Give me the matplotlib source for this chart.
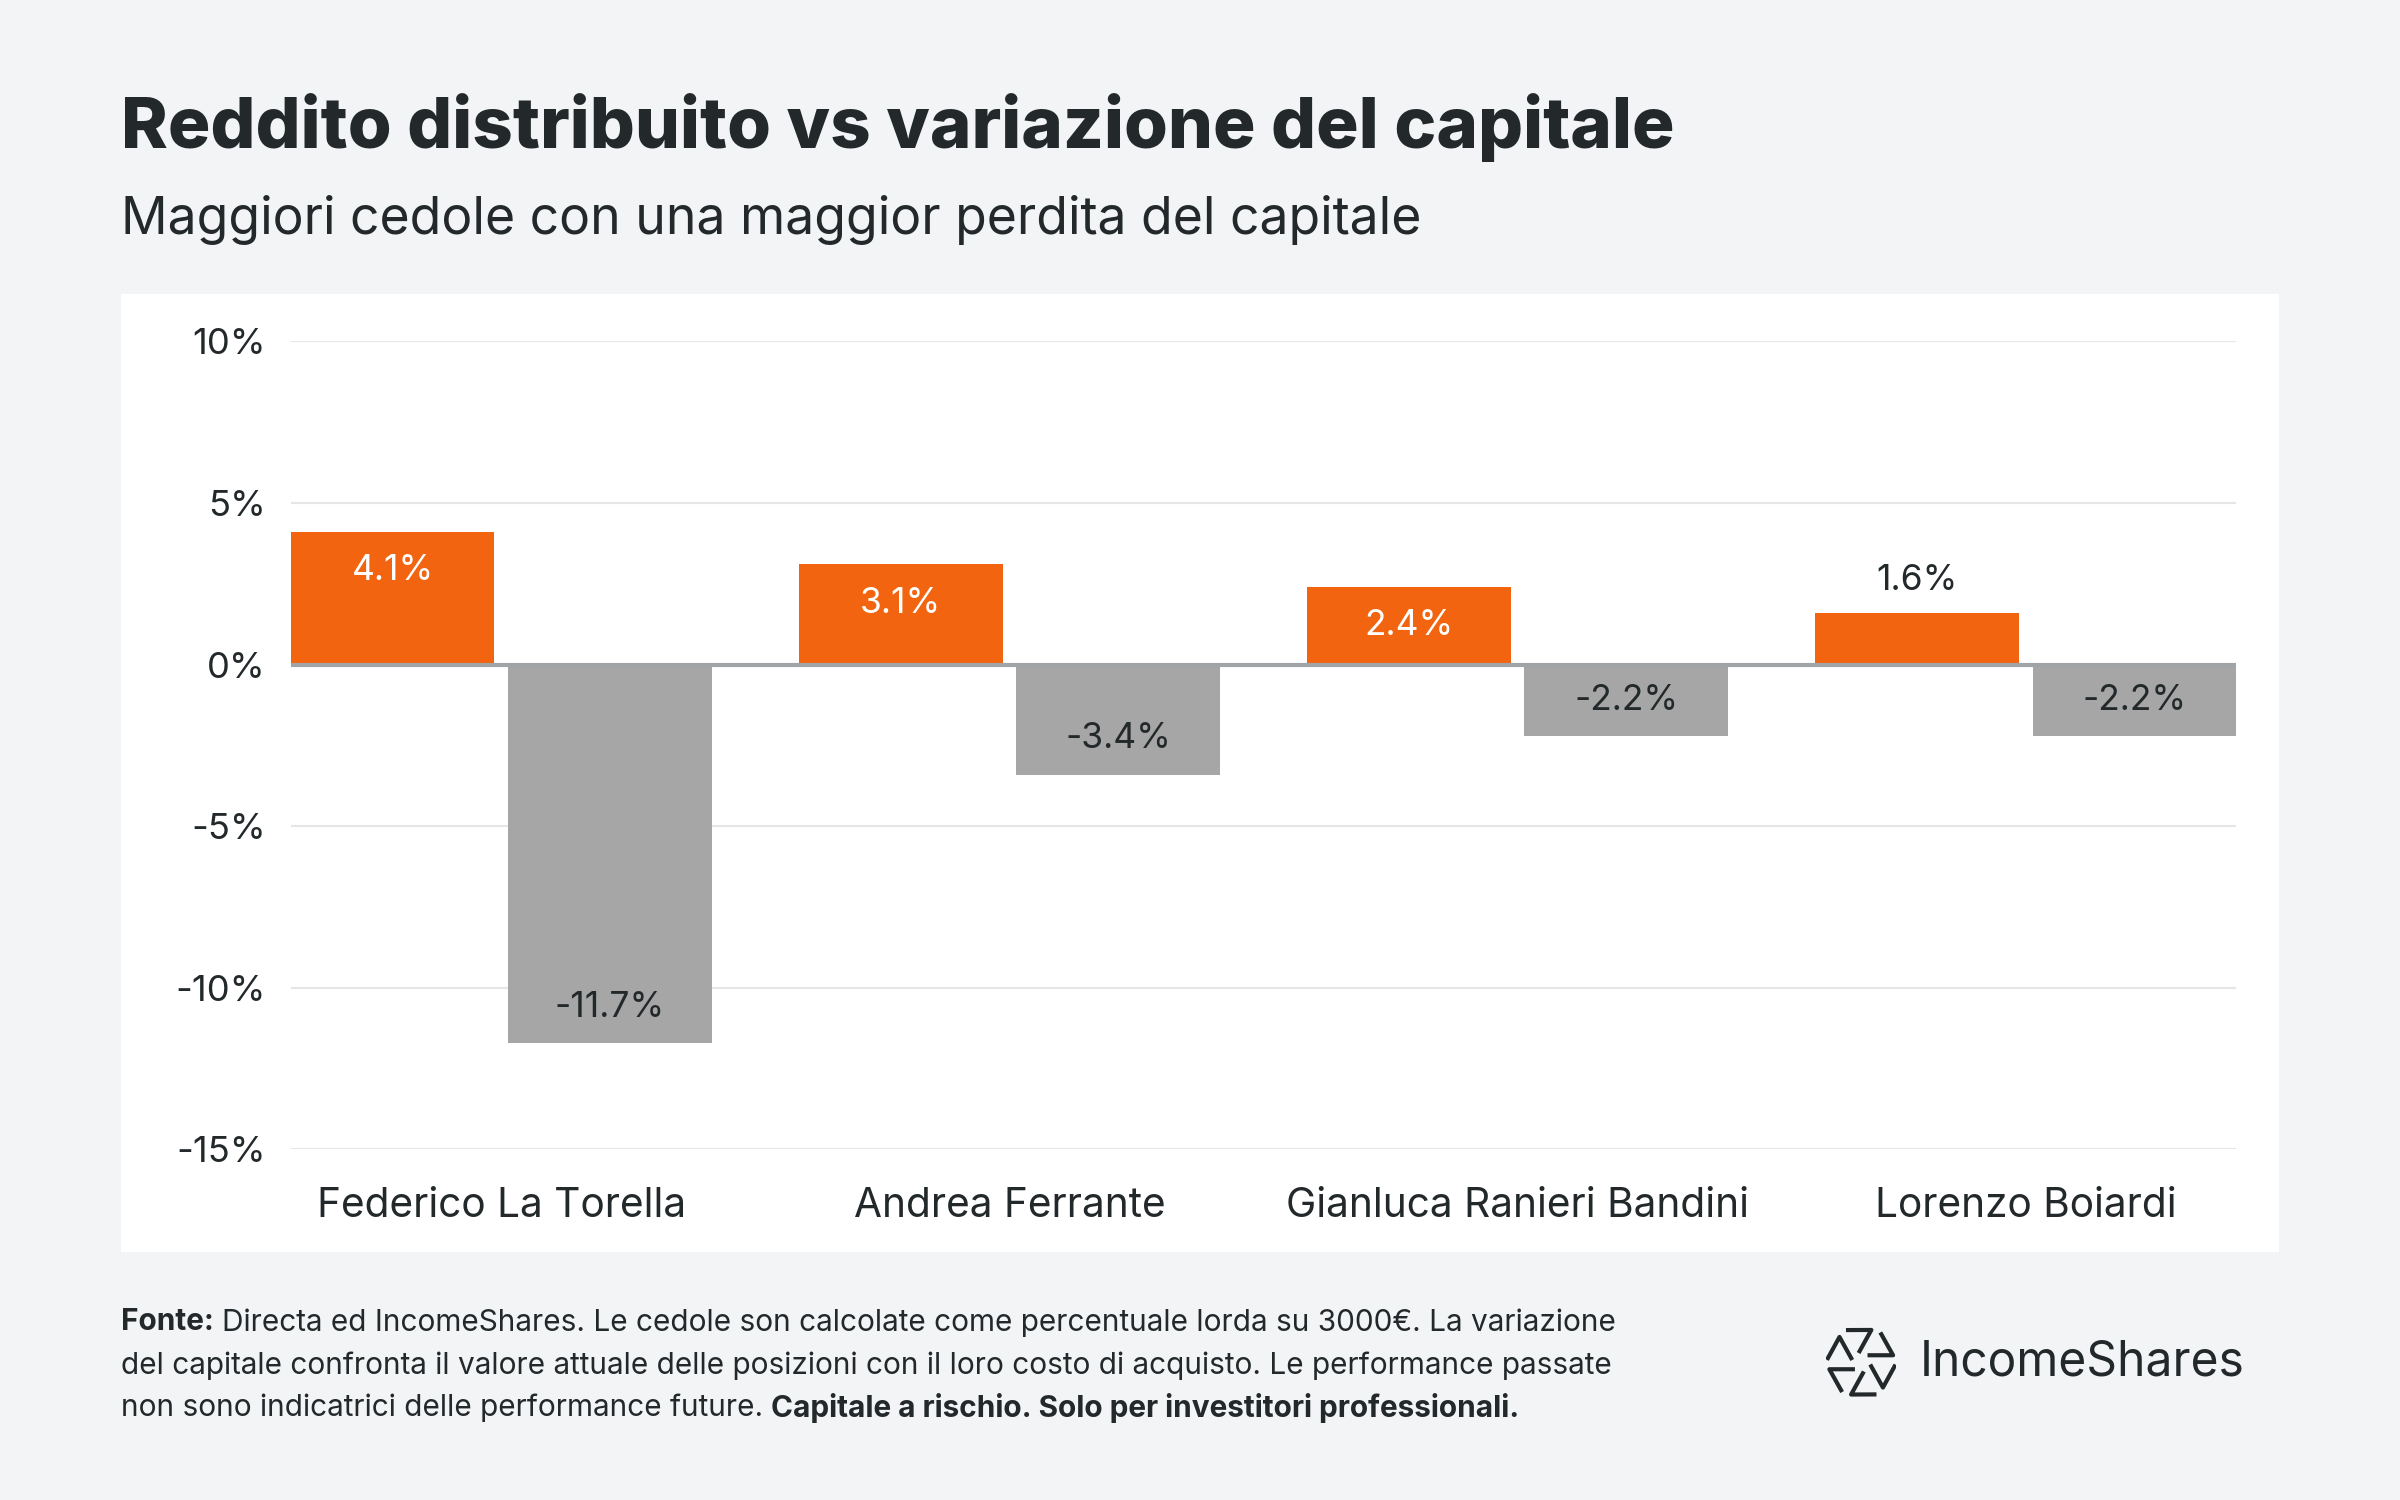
import matplotlib
matplotlib.use("Agg")
import matplotlib.pyplot as plt
import numpy as np

plt.rcParams['font.family'] = ['Inter', 'DejaVu Sans']

categories = ["Federico La Torella", "Andrea Ferrante", "Gianluca Ranieri Bandini", "Lorenzo Boiardi"]
income = [4.1, 3.1, 2.4, 1.6]
capital = [-11.7, -3.4, -2.2, -2.2]
yticks = [10, 5, 0, -5, -10, -15]

ORANGE = "#f2640f"
GRAY = "#a6a6a6"
BG = "#f3f4f6"
DARK = "#23292b"

W, H = 1568, 980
fig = plt.figure(figsize=(16, 10), dpi=150, facecolor=BG)
pan = fig.add_axes([79/W, 1-818/H, (1489-79)/W, (818-192)/H], zorder=-1)
pan.set_facecolor("white")
pan.set_xticks([]); pan.set_yticks([])
for s in pan.spines.values():
    s.set_visible(False)

ax = fig.add_axes([190/W, 1-751/H, (1461-190)/W, (751-223)/H], zorder=1)
ax.set_facecolor("none")
ax.set_ylim(-15, 10)
x = np.arange(len(categories))
bw = 133/332
xo = x + bw/2
xg = x + 142/332 + bw/2
ax.set_xlim(0, xg[-1] + bw/2)
ax.bar(xo, income, width=bw, color=ORANGE, zorder=3)
ax.bar(xg, capital, width=bw, color=GRAY, zorder=3)
for v in yticks:
    ax.axhline(v, color="#e6e6e6", lw=1, zorder=1)
ax.axhline(0, color="#a0a4a8", lw=2, zorder=4)

VF = 17
for xi, v in zip(xo, income):
    if v > 2:
        ax.text(xi, v - 1.2, f"{v}%", ha="center", va="center", color="white", fontsize=VF)
    else:
        ax.text(xi, v + 1.0, f"{v}%", ha="center", va="center", color=DARK, fontsize=VF)
for xi, v in zip(xg, capital):
    ax.text(xi, v + 1.1, f"{v}%", ha="center", va="center", color=DARK, fontsize=VF)

ax.set_yticks(yticks)
ax.set_yticklabels([f"{v}%" for v in yticks], fontsize=17.5, color=DARK)
ax.set_xticks(x + (142/332 + bw)/2)
ax.set_xticklabels(categories, fontsize=19.5, color=DARK)
ax.tick_params(length=0, axis="both")
ax.tick_params(axis="x", pad=18)
ax.tick_params(axis="y", pad=12)
for s in ax.spines.values():
    s.set_visible(False)

fig.text(79/W, 1-83/H, "Reddito distribuito vs variazione del capitale", fontsize=34,
         fontweight="heavy", color=DARK, va="center")
fig.text(79/W, 1-144/H, "Maggiori cedole con una maggior perdita del capitale", fontsize=24.8,
         color=DARK, va="center")

FS = 14.3
foot_y = [864, 892, 920]
fig.canvas.draw()
r = fig.canvas.get_renderer()
t0 = fig.text(79/W, 1-foot_y[0]/H, "Fonte:", fontsize=FS, color=DARK, va="center", fontweight="bold")
bb = t0.get_window_extent(r)
fig.text(bb.x1/fig.bbox.width + 8/2400, 1-foot_y[0]/H,
         "Directa ed IncomeShares. Le cedole son calcolate come percentuale lorda su 3000€. La variazione",
         fontsize=FS, color=DARK, va="center")
fig.text(79/W, 1-foot_y[1]/H, "del capitale confronta il valore attuale delle posizioni con il loro costo di acquisto. Le performance passate",
         fontsize=FS, color=DARK, va="center")
t = fig.text(79/W, 1-foot_y[2]/H, "non sono indicatrici delle performance future. ",
             fontsize=FS, color=DARK, va="center")
bb = t.get_window_extent(r)
fig.text(bb.x1 / fig.bbox.width, 1-foot_y[2]/H, "Capitale a rischio. Solo per investitori professionali.",
         fontsize=FS, color=DARK, va="center", fontweight="bold")

# logo
lax = fig.add_axes([1193/W, 1-914/H, 46/W, 48/H])
lax.axis("off")
for k in range(6):
    a = np.pi/3*k
    c, s = np.cos(a), np.sin(a)
    p = np.array([[0.25, 0.2], [0.95, 0.2], [0.6, 0.8]])
    rm = np.array([[c, -s], [s, c]])
    q = p @ rm.T
    lax.plot(q[:, 0], q[:, 1], color=DARK, lw=2)
lax.set_xlim(-1.05, 1.05); lax.set_ylim(-1.05, 1.05)
fig.text(1254/W, 1-890/H, "IncomeShares", fontsize=23, color=DARK, va="center")

fig.savefig("out.png", dpi=150, facecolor=BG)
